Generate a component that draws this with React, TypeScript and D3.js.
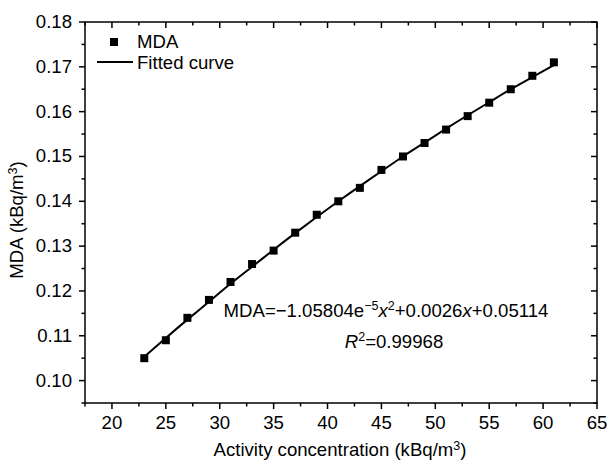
import React from "react";
import * as d3 from "d3";

// measured points (kBq/m3 vs MDA)
const conc = [23, 25, 27, 29, 31, 33, 35, 37, 39, 41, 43, 45, 47, 49, 51, 53, 55, 57, 59, 61];
const mda = [0.105, 0.109, 0.114, 0.118, 0.122, 0.126, 0.129, 0.133, 0.137, 0.140,
  0.143, 0.147, 0.150, 0.153, 0.156, 0.159, 0.162, 0.165, 0.168, 0.171];

// fitted curve values read at the same concentrations
const fitted = [0.1053, 0.1095, 0.1136, 0.1176, 0.1216, 0.1254, 0.1292, 0.1329, 0.1365, 0.1400,
  0.1434, 0.1467, 0.1500, 0.1531, 0.1562, 0.1592, 0.1621, 0.1650, 0.1677, 0.1704];

const xTicks = [20, 25, 30, 35, 40, 45, 50, 55, 60, 65];
const yTicks = [0.10, 0.11, 0.12, 0.13, 0.14, 0.15, 0.16, 0.17, 0.18];

const W = 607;
const H = 461;
const left = 85, right = 597, top = 22, bottom = 403;
const font = "'Liberation Sans', Arial, sans-serif";
const fs = 18.6;

export default function App() {
  const x = d3.scaleLinear().domain([17.5, 65]).range([left, right]);
  const y = d3.scaleLinear().domain([0.095, 0.18]).range([bottom, top]);

  const xMinor = d3.range(17.5, 65, 5);
  const yMinor = d3.range(0.095, 0.18, 0.01);

  const curvePath = d3.line<number>()
    .x((d, i) => x(conc[i]))
    .y((d) => y(d))
    .curve(d3.curveNatural)(fitted);

  return (
    <div style={{ position: "absolute", left: 0, top: 0 }}>
      <svg width={W} height={H} style={{ display: "block", background: "#fff" }} fontFamily={font}>
        {/* frame */}
        <rect x={left} y={top} width={right - left} height={bottom - top}
          fill="none" stroke="#000" strokeWidth={1.5} />

        {/* bottom (out) & top (in) ticks */}
        {xTicks.map((t) => (
          <g key={"xt" + t}>
            <line x1={x(t)} x2={x(t)} y1={bottom} y2={bottom + 6} stroke="#000" strokeWidth={1.5} />
            <line x1={x(t)} x2={x(t)} y1={top} y2={top + 6} stroke="#000" strokeWidth={1.5} />
            <text x={x(t)} y={429} fontSize={fs} textAnchor="middle">{t}</text>
          </g>
        ))}
        {xMinor.map((t) => (
          <g key={"xm" + t}>
            <line x1={x(t)} x2={x(t)} y1={bottom} y2={bottom + 3.5} stroke="#000" strokeWidth={1.5} />
            <line x1={x(t)} x2={x(t)} y1={top} y2={top + 3.5} stroke="#000" strokeWidth={1.5} />
          </g>
        ))}

        {/* left (out) & right (in) ticks */}
        {yTicks.map((t) => (
          <g key={"yt" + t}>
            <line x1={left - 6} x2={left} y1={y(t)} y2={y(t)} stroke="#000" strokeWidth={1.5} />
            <line x1={right - 6} x2={right} y1={y(t)} y2={y(t)} stroke="#000" strokeWidth={1.5} />
            <text x={72} y={y(t) + 6} fontSize={fs} textAnchor="end">{t.toFixed(2)}</text>
          </g>
        ))}
        {yMinor.map((t) => (
          <g key={"ym" + t}>
            <line x1={left - 3.5} x2={left} y1={y(t)} y2={y(t)} stroke="#000" strokeWidth={1.5} />
            <line x1={right - 3.5} x2={right} y1={y(t)} y2={y(t)} stroke="#000" strokeWidth={1.5} />
          </g>
        ))}

        {/* axis titles */}
        <text x={340} y={456} fontSize={fs} textAnchor="middle">
          Activity concentration (kBq/m<tspan dy={-6} fontSize={12.5}>3</tspan><tspan dy={6}>)</tspan>
        </text>
        <text transform={`translate(23,220) rotate(-90)`} fontSize={fs} textAnchor="middle">
          MDA (kBq/m<tspan dy={-6} fontSize={12.5}>3</tspan><tspan dy={6}>)</tspan>
        </text>

        {/* fitted curve */}
        <path d={curvePath ?? ""} fill="none" stroke="#000" strokeWidth={2} />

        {/* points */}
        {conc.map((c, i) => (
          <rect key={"p" + c} x={x(c) - 4} y={y(mda[i]) - 4} width={8} height={8} fill="#000" />
        ))}

        {/* legend */}
        <rect x={110} y={38} width={8} height={8} fill="#000" />
        <text x={137} y={48} fontSize={fs}>MDA</text>
        <line x1={97} x2={133} y1={62} y2={62} stroke="#000" strokeWidth={2} />
        <text x={137} y={69} fontSize={fs}>Fitted curve</text>

        {/* equation */}
        <text x={386} y={317} fontSize={fs} textAnchor="middle">
          MDA=−1.05804e<tspan dy={-7} fontSize={12.5}>−5</tspan>
          <tspan dy={7} fontStyle="italic">x</tspan>
          <tspan dy={-7} fontSize={12.5}>2</tspan>
          <tspan dy={7}>+0.0026</tspan><tspan fontStyle="italic">x</tspan><tspan>+0.05114</tspan>
        </text>
        <text x={394} y={348} fontSize={fs} textAnchor="middle">
          <tspan fontStyle="italic">R</tspan><tspan dy={-7} fontSize={12.5}>2</tspan><tspan dy={7}>=0.99968</tspan>
        </text>
      </svg>
    </div>
  );
}
